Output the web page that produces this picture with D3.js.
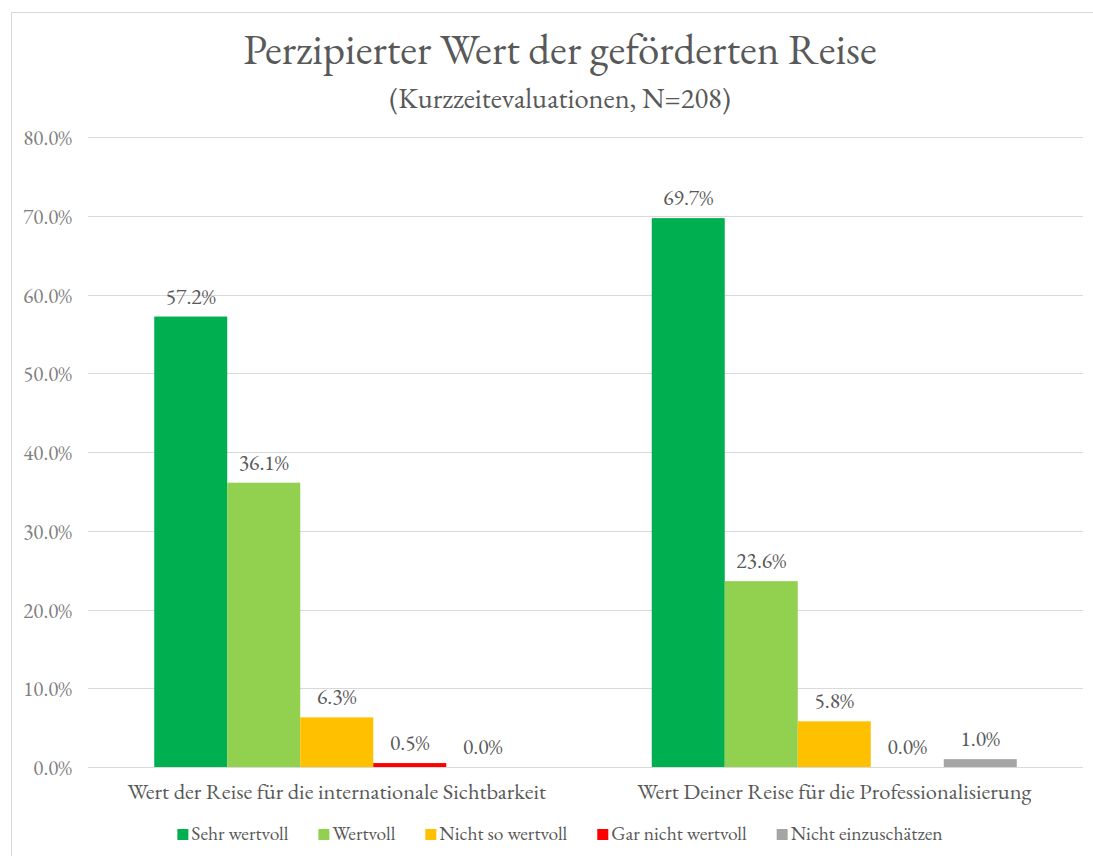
<!DOCTYPE html>
<html>
<head>
<meta charset="utf-8">
<script src="https://cdn.jsdelivr.net/npm/d3@7/dist/d3.min.js"></script>
<style>
  html, body { margin: 0; padding: 0; background: #fff; }
  svg { display: block; }
</style>
</head>
<body>
<svg id="chart" width="1093" height="856"></svg>
<script>
// Chart data.
const categories = [
  "Wert der Reise für die internationale Sichtbarkeit",
  "Wert Deiner Reise für die Professionalisierung"
];
const seriesNames = ["Sehr wertvoll", "Wertvoll", "Nicht so wertvoll", "Gar nicht wertvoll", "Nicht einzuschätzen"];
const seriesColors = ["#00B050", "#92D050", "#FFC000", "#FF0000", "#A5A5A5"];
// percent per series, one array per category
const valuesSichtbarkeit = [57.2, 36.1, 6.3, 0.5, 0.0];
const valuesProfessionalisierung = [69.7, 23.6, 5.8, 0.0, 1.0];
const yTicks = [0, 10, 20, 30, 40, 50, 60, 70, 80];

const titleText = "Perzipierter Wert der geförderten Reise";
const subtitleText = "(Kurzzeitevaluationen, N=208)";

(function () {
  const FONT = "'EB Garamond', 'Liberation Serif', serif";
  const svg = d3.select("#chart").style("font-family", FONT);
  const plot = { left: 88, right: 1083, top: 137, bottom: 767 };
  const centerX = 560;

  // Outer chart frame (runs off the right and bottom edges in the reference).
  svg.append("rect")
    .attr("x", 11.5).attr("y", 12.5)
    .attr("width", 1120).attr("height", 900)
    .attr("fill", "none").attr("stroke", "#D9D9D9");

  // Title + subtitle.
  svg.append("text")
    .attr("x", centerX).attr("y", 64)
    .attr("text-anchor", "middle")
    .attr("fill", "#595959")
    .style("font-family", FONT)
    .style("font-size", "43px")
    .text(titleText);
  svg.append("text")
    .attr("x", centerX).attr("y", 108)
    .attr("text-anchor", "middle")
    .attr("fill", "#595959")
    .style("font-family", FONT)
    .style("font-size", "28.5px")
    .text(subtitleText);

  const data = categories.map((c, i) => ({
    category: c,
    values: (i === 0 ? valuesSichtbarkeit : valuesProfessionalisierung)
      .map((v, j) => ({ series: seriesNames[j], value: v, color: seriesColors[j] }))
  }));

  const y = d3.scaleLinear().domain([0, 80]).range([plot.bottom, plot.top]);
  const x0 = d3.scaleBand()
    .domain(categories)
    .range([plot.left, plot.right])
    .paddingInner(0.2663)
    .paddingOuter(0.13315);
  const x1 = d3.scaleBand()
    .domain(seriesNames)
    .range([0, x0.bandwidth()]);

  // Gridlines.
  svg.append("g")
    .selectAll("line")
    .data(yTicks)
    .join("line")
    .attr("x1", plot.left).attr("x2", plot.right)
    .attr("y1", d => Math.round(y(d)) + 0.5)
    .attr("y2", d => Math.round(y(d)) + 0.5)
    .attr("stroke", "#D9D9D9")
    .attr("stroke-width", 1);

  // Y axis labels.
  const yAxis = d3.axisLeft(y)
    .tickValues(yTicks)
    .tickSize(0)
    .tickPadding(0)
    .tickFormat(d => d.toFixed(1) + "%");
  const yAxisG = svg.append("g")
    .attr("transform", `translate(${72},0)`)
    .call(yAxis)
    .attr("font-family", null);
  yAxisG.select(".domain").remove();
  yAxisG.selectAll("text")
    .attr("fill", "#808080")
    .attr("dy", "0.36em")
    .style("font-family", FONT)
    .style("font-size", "21px");

  // Bars.
  const groups = svg.append("g")
    .selectAll("g.group")
    .data(data)
    .join("g")
    .attr("class", "group")
    .attr("transform", d => `translate(${x0(d.category)},0)`);

  groups.selectAll("rect")
    .data(d => d.values)
    .join("rect")
    .attr("x", d => x1(d.series))
    .attr("width", x1.bandwidth())
    .attr("y", d => y(d.value))
    .attr("height", d => y(0) - y(d.value))
    .attr("fill", d => d.color);

  // Value labels.
  groups.selectAll("text.val")
    .data(d => d.values)
    .join("text")
    .attr("class", "val")
    .attr("x", d => x1(d.series) + x1.bandwidth() / 2)
    .attr("y", d => y(d.value) - 13)
    .attr("text-anchor", "middle")
    .attr("fill", "#595959")
    .style("font-family", FONT)
    .style("font-size", "21.5px")
    .text(d => d.value.toFixed(1) + "%");

  // Category labels.
  const xAxis = d3.axisBottom(x0).tickSize(0).tickPadding(0);
  const xAxisG = svg.append("g")
    .attr("transform", `translate(0,${plot.bottom})`)
    .call(xAxis)
    .attr("font-family", null);
  xAxisG.select(".domain").remove();
  xAxisG.selectAll("text")
    .attr("dy", 0)
    .attr("y", 32)
    .attr("fill", "#595959")
    .style("font-family", FONT)
    .style("font-size", "22.5px");

  // Legend, centered under the chart.
  const legend = svg.append("g");
  const items = legend.selectAll("g.item")
    .data(seriesNames)
    .join("g")
    .attr("class", "item");
  items.append("rect")
    .attr("width", 11).attr("height", 11)
    .attr("y", -11)
    .attr("fill", (d, i) => seriesColors[i]);
  items.append("text")
    .attr("x", 14)
    .attr("fill", "#595959")
    .style("font-family", FONT)
    .style("font-size", "19.5px")
    .text(d => d);

  const gap = 30;
  let cursor = 0;
  const offsets = [];
  items.each(function () {
    const w = 14 + this.querySelector("text").getComputedTextLength();
    offsets.push(cursor);
    cursor += w + gap;
  });
  const total = cursor - gap;
  items.attr("transform", (d, i) => `translate(${offsets[i]},0)`);
  legend.attr("transform", `translate(${centerX - total / 2},840)`);
})();
</script>
</body>
</html>
